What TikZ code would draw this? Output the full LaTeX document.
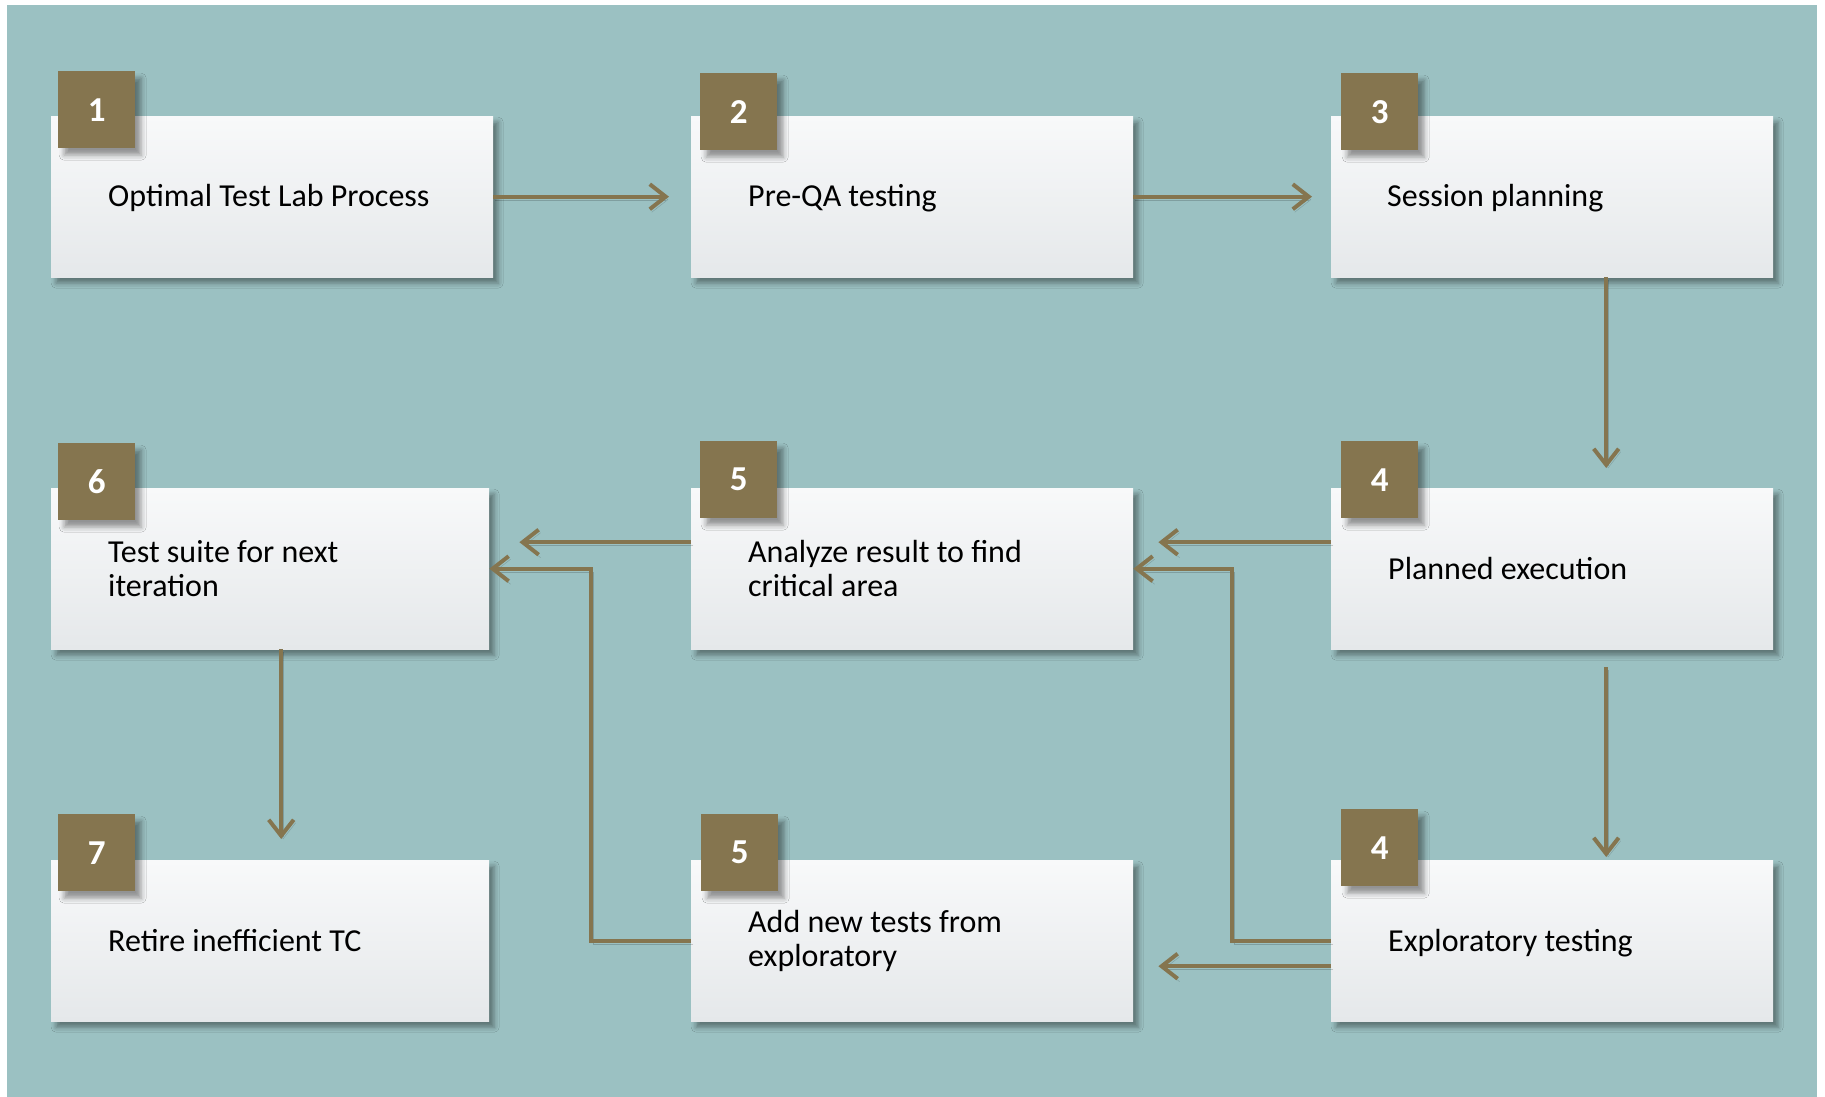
\documentclass[tikz,border=0pt]{standalone}
\usepackage{fontspec}
\setmainfont{Carlito}
\usetikzlibrary{arrows.meta,shadows.blur,calc}

\definecolor{bgteal}{RGB}{155,193,194}
\definecolor{olive}{RGB}{133,117,79}
\definecolor{boxtop}{RGB}{248,249,250}
\definecolor{boxbot}{RGB}{229,232,234}

\begin{document}
\begin{tikzpicture}[x=1pt,y=-1pt,
  stepbox/.style={rectangle, anchor=north west, inner sep=0pt,
    minimum height=161pt, minimum width=442pt,
    top color=boxtop, bottom color=boxbot,
    blur shadow={shadow xshift=5pt, shadow yshift=-6pt,
      shadow blur radius=5pt, shadow opacity=40}},
  badge/.style={rectangle, anchor=north west, inner sep=0pt,
    minimum size=77pt, fill=olive, text=white,
    font=\fontsize{35pt}{40pt}\selectfont\bfseries,
    blur shadow={shadow xshift=6pt, shadow yshift=-7pt,
      shadow blur radius=5pt, shadow opacity=40}},
  steptext/.style={anchor=west, inner sep=0pt, align=left,
    font=\fontsize{32pt}{34pt}\selectfont},
  oneline/.style={steptext, text height=20pt, text depth=2pt},
  conn/.style={draw=olive, line width=4pt,
    -{Straight Barb[length=16pt, width=25pt]},
    preaction={draw=black, opacity=0.18,
      transform canvas={xshift=2pt, yshift=-3pt}}},
]
% page and backdrop
\fill[white] (0,0) rectangle (1825,1097);
\fill[bgteal] (7,5) rectangle (1817,1097);
\useasboundingbox (0,0) rectangle (1825,1097);

% step boxes
\node[stepbox] (b1) at (51,116) {};
\node[stepbox] (b2) at (691,116) {};
\node[stepbox] (b3) at (1331,116) {};
\node[stepbox, minimum width=438pt] (b6) at (51,488) {};
\node[stepbox] (b5) at (691,488) {};
\node[stepbox] (b4) at (1331,488) {};
\node[stepbox, minimum width=438pt] (b7) at (51,860) {};
\node[stepbox] (b5b) at (691,860) {};
\node[stepbox] (b4b) at (1331,860) {};

% step labels
\node[oneline] (t1) at ($(b1.west)+(57,1)$) {Optimal Test Lab Process};
\node[oneline] (t2) at ($(b2.west)+(57,1)$) {Pre-QA testing};
\node[oneline] (t3) at ($(b3.west)+(56,1)$) {Session planning};
\node[steptext] (t6) at ($(b6.west)+(57,0)$) {Test suite for next\\iteration};
\node[steptext] (t5) at ($(b5.west)+(57,0)$) {Analyze result to find\\critical area};
\node[oneline] (t4) at ($(b4.west)+(57,1.5)$) {Planned execution};
\node[oneline] (t7) at ($(b7.west)+(57,1.5)$) {Retire inefficient TC};
\node[steptext] (t5b) at ($(b5b.west)+(57,0)$) {Add new tests from\\exploratory};
\node[oneline] (t4b) at ($(b4b.west)+(57,1.5)$) {Exploratory testing};

% number badges
\node[badge] (n1) at (58,71) {1};
\node[badge] (n2) at (700,73) {2};
\node[badge] (n3) at (1341,73) {3};
\node[badge] (n6) at (58,443) {6};
\node[badge] (n5) at (700,441) {5};
\node[badge] (n4) at (1341,441) {4};
\node[badge] (n7) at (58,814) {7};
\node[badge] (n5b) at (701,814) {5};
\node[badge] (n4b) at (1341,809) {4};

% connectors
\draw[conn] (b1.east) -- ([xshift=-22pt]b2.west);
\draw[conn] (b2.east) -- ([xshift=-19pt]b3.west);
\draw[conn] ([xshift=54pt]b3.south) -- ([xshift=54pt,yshift=20pt]b4.north);
\draw[conn] ([yshift=26.5pt]b4.west) -- ([yshift=26.5pt,xshift=25pt]b5.east);
\draw[conn] (b4b.west) -- ++(-99,0) |- (b5.east);
\draw[conn] ([yshift=-25.5pt]b4b.west) -- ([yshift=-25.5pt,xshift=25pt]b5b.east);
\draw[conn] ([yshift=26.5pt]b5.west) -- ([yshift=26.5pt,xshift=30pt]b6.east);
\draw[conn] (b5b.west) -- ++(-100,0) |- (b6.east);
\draw[conn] ([xshift=11pt]b6.south) -- ([xshift=11pt,yshift=21pt]b7.north);
\draw[conn] ([xshift=54pt,yshift=-18pt]b4.south) -- ([xshift=54pt,yshift=3pt]b4b.north);
\end{tikzpicture}
\end{document}
